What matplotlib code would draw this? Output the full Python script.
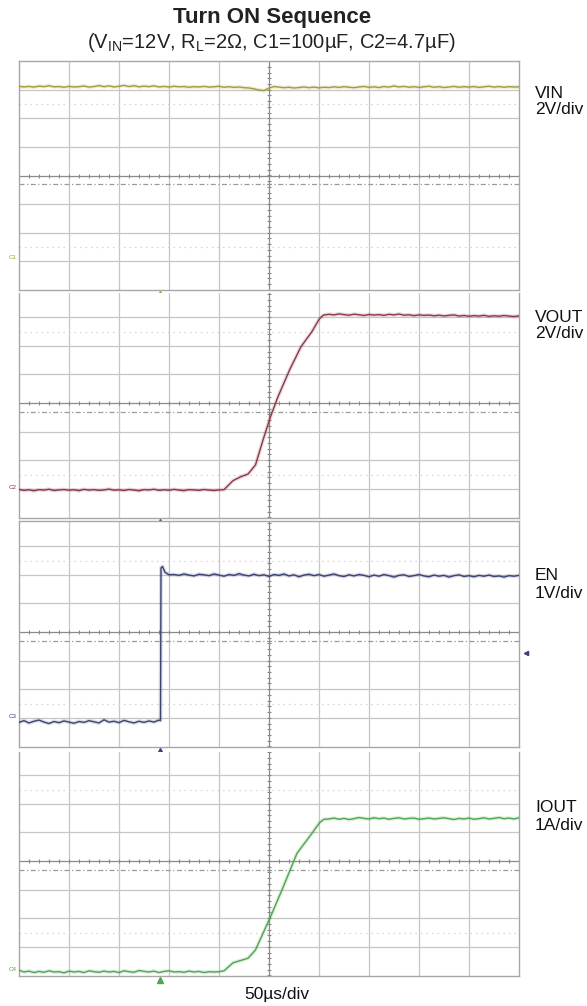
import matplotlib
matplotlib.use("Agg")
import matplotlib.pyplot as plt
import numpy as np

plt.rcParams['font.family'] = ['Liberation Sans', 'DejaVu Sans']
plt.rcParams['mathtext.fontset'] = 'custom'
plt.rcParams['mathtext.rm'] = 'Liberation Sans'
plt.rcParams['mathtext.it'] = 'Liberation Sans'

# ---------------- data (time in µs from left edge of screen) ----------------
vin_t = list(range(0, 505, 5))
vin_v = [11.98, 11.93, 11.97, 11.92, 11.99, 11.95, 12.02, 11.94, 11.96, 11.91,
         11.97, 11.93, 11.95, 12.00, 11.92, 11.96, 12.03, 11.95, 12.01, 11.93,
         11.98, 12.04, 11.96, 12.02, 11.94, 11.99, 11.95, 12.01, 11.93, 11.97,
         11.92, 11.98, 11.94, 11.96, 11.91, 11.95, 11.93, 11.97, 11.92, 11.94,
         11.98, 11.91, 11.95, 11.90, 11.93, 11.88, 11.86, 11.80, 11.72, 11.68,
         11.85, 11.96, 11.92, 11.88, 11.91, 11.86, 11.89, 11.93, 11.88, 11.92,
         11.87, 11.91, 11.89, 11.94, 11.90, 11.95, 11.91, 11.88, 11.93, 11.97,
         11.90, 11.94, 11.89, 11.96, 11.92, 12.00, 11.93, 11.97, 11.91, 11.95,
         11.90, 11.94, 11.98, 11.91, 11.95, 11.89, 11.93, 11.97, 11.91, 11.95,
         11.92, 11.96, 11.90, 11.94, 11.98, 11.92, 11.96, 11.91, 11.95, 11.93,
         11.94]

vout_low_t = list(range(0, 205, 5))
vout_low_v = [-0.15, -0.21, -0.17, -0.24, -0.16, -0.19, -0.13, -0.22, -0.18, -0.15,
              -0.20, -0.17, -0.23, -0.14, -0.19, -0.16, -0.21, -0.18, -0.12, -0.20,
              -0.17, -0.22, -0.15, -0.19, -0.24, -0.16, -0.18, -0.13, -0.21, -0.17,
              -0.20, -0.14, -0.19, -0.23, -0.16, -0.18, -0.21, -0.15, -0.19, -0.22,
              -0.18]
vout_rise_t = [205, 214, 222, 229, 236.5, 244, 251.5, 259, 270.5, 282, 293, 300.5, 304.5]
vout_rise_v = [-0.16, 0.47, 0.75, 0.93, 1.57, 3.31, 4.94, 6.34, 8.2, 9.84, 10.9, 11.8, 12.05]
vout_high_t = list(range(310, 505, 5))
vout_high_v = [12.10, 12.06, 12.13, 12.08, 12.04, 12.11, 12.07, 12.02, 12.09, 12.05,
               12.08, 12.03, 12.10, 12.06, 12.12, 12.04, 12.07, 12.01, 12.06, 12.03,
               12.05, 12.00, 12.04, 11.99, 12.03, 12.06, 11.98, 12.02, 11.97, 12.01,
               11.98, 12.03, 11.96, 12.00, 11.97, 12.02, 11.98, 11.95, 11.99]

en_low_t = list(range(0, 145, 5))
en_low_v = [-0.20, -0.14, -0.22, -0.16, -0.12, -0.19, -0.24, -0.17, -0.21, -0.15,
            -0.19, -0.23, -0.17, -0.20, -0.14, -0.18, -0.22, -0.11, -0.19, -0.16,
            -0.21, -0.13, -0.18, -0.22, -0.16, -0.20, -0.15, -0.19, -0.12]
en_edge_t = [141.5, 142.0, 143.5, 146, 150]
en_edge_v = [-0.14, 5.20, 5.25, 5.05, 4.96]
en_high_t = list(range(155, 505, 5))
en_high_v = [4.97, 4.94, 4.99, 4.95, 4.92, 4.98, 4.96, 4.93, 4.99, 4.95,
             4.91, 4.97, 4.94, 5.00, 4.95, 4.92, 4.98, 4.93, 4.96, 4.90,
             4.97, 4.94, 4.99, 4.92, 4.96, 4.89, 4.95, 4.98, 4.93, 4.97,
             4.91, 4.95, 4.99, 4.93, 4.90, 4.96, 4.92, 4.97, 4.94, 4.89,
             4.95, 4.91, 4.97, 4.93, 4.88, 4.94, 4.96, 4.90, 4.93, 4.97,
             4.92, 4.89, 4.95, 4.91, 4.94, 4.88, 4.93, 4.96, 4.90, 4.93,
             4.89, 4.94, 4.91, 4.95, 4.90, 4.92, 4.88, 4.93, 4.91, 4.94]

iout_low_t = list(range(0, 205, 5))
iout_low_v = [-0.04, -0.10, -0.07, -0.12, -0.08, -0.11, -0.06, -0.10, -0.09, -0.13,
              -0.07, -0.10, -0.08, -0.12, -0.06, -0.09, -0.11, -0.07, -0.10, -0.08,
              -0.12, -0.06, -0.09, -0.11, -0.05, -0.08, -0.10, -0.07, -0.12, -0.08,
              -0.06, -0.10, -0.09, -0.11, -0.07, -0.10, -0.08, -0.12, -0.09, -0.10,
              -0.09]
iout_rise_t = [205, 214, 229, 236.5, 244, 251.5, 263, 278, 293, 300.5, 305]
iout_rise_v = [-0.06, 0.22, 0.38, 0.67, 1.25, 1.83, 2.77, 4.05, 4.75, 5.12, 5.24]
iout_high_t = list(range(310, 505, 5))
iout_high_v = [5.25, 5.28, 5.24, 5.27, 5.23, 5.26, 5.30, 5.27, 5.25, 5.29,
               5.26, 5.28, 5.24, 5.27, 5.29, 5.25, 5.27, 5.28, 5.24, 5.26,
               5.28, 5.25, 5.27, 5.29, 5.26, 5.23, 5.27, 5.25, 5.28, 5.24,
               5.26, 5.29, 5.25, 5.27, 5.30, 5.26, 5.28, 5.25, 5.29]

channel_names = ["VIN", "VOUT", "EN", "IOUT"]
channel_scales = ["2V/div", "2V/div", "1V/div", "1A/div"]
volts_per_div = [2.0, 2.0, 1.0, 1.0]
ground_div = [-2.87, -2.95, -2.96, -3.78]
channel_tags = ["C1", "C2", "C3", "C4"]
trigger_t = 141
time_label = "50µs/div"
title = "Turn ON Sequence"
subtitle = r"(V$_{\rm IN}$=12V, R$_{\rm L}$=2Ω, C1=100µF, C2=4.7µF)"

traces = [
    (vin_t, vin_v),
    (vout_low_t + vout_rise_t + vout_high_t, vout_low_v + vout_rise_v + vout_high_v),
    (en_low_t + en_edge_t + en_high_t, en_low_v + en_edge_v + en_high_v),
    (iout_low_t + iout_rise_t + iout_high_t, iout_low_v + iout_rise_v + iout_high_v),
]
colors = ["#a39c3c", "#8c3848", "#3c4272", "#4fa54f"]

# ---------------- layout (pixels) ----------------
W, H = 587, 1006
DPI = 100
X0, X1 = 19, 519
DIV_PX = 28.6
panels_px = [(61, 290, 175.5), (293, 518, 403), (521, 747, 632), (752, 976, 861)]
top_spine = [True, False, True, False]
label_y = [(93, 110), (317, 334), (575, 593), (808, 826)]

fig = plt.figure(figsize=(W / DPI, H / DPI), dpi=DPI)
fig.patch.set_facecolor("white")

def fy(y):
    return 1 - y / H

grid_c = "#c6c6c6"
dark_c = "#8a8a8a"

for i, (ytop, ybot, yc) in enumerate(panels_px):
    ax = fig.add_axes([X0 / W, fy(ybot), (X1 - X0) / W, (ybot - ytop) / H])
    lo = -(ybot - yc) / DIV_PX
    hi = (yc - ytop) / DIV_PX
    ax.set_xlim(0, 500)
    ax.set_ylim(lo, hi)
    ax.set_xticks([])
    ax.set_yticks([])
    for s in ["left", "right", "bottom", "top"]:
        ax.spines[s].set_color("#a8a8a8")
        ax.spines[s].set_linewidth(1.0)
    ax.spines["top"].set_visible(top_spine[i])

    # vertical grid
    for k in range(1, 10):
        if k == 5:
            continue
        ax.axvline(k * 50, color=grid_c, lw=0.9, zorder=1)
    # horizontal grid
    for k in range(-3, 4):
        if k == 0:
            continue
        if lo < k < hi:
            ax.axhline(k, color=grid_c, lw=0.9, zorder=1)
    # center cross with minor ticks
    ax.axhline(0, color=dark_c, lw=0.9, zorder=1.5)
    ax.axvline(250, color=dark_c, lw=0.9, zorder=1.5)
    xt = np.arange(0, 501, 10)
    ax.plot(xt, np.zeros_like(xt, dtype=float), ls="none", marker="|", ms=3.5,
            mew=0.8, color=dark_c, zorder=1.6)
    yt = np.arange(np.ceil(lo / 0.2) * 0.2, hi, 0.2)
    ax.plot(np.full_like(yt, 250.0), yt, ls="none", marker="_", ms=3.5,
            mew=0.8, color=dark_c, zorder=1.6)
    # dash-dot reference line and dotted cursor lines
    ax.axhline(-0.3, color="#9a9a9a", lw=0.9, ls=(0, (4, 2, 1, 2)), zorder=1.4)
    for yy in (2.5, -2.5):
        ax.axhline(yy, color="#d2d2d2", lw=0.9, ls=(0, (1.2, 3.2)), zorder=1.2)

    # trace
    t, v = traces[i]
    yv = np.asarray(v) / volts_per_div[i] + ground_div[i]
    ax.plot(t, yv, color=colors[i], lw=2.8, alpha=0.18, zorder=3,
            solid_joinstyle="round")
    ax.plot(t, yv, color=colors[i], lw=1.0, zorder=4)

    # trigger marker below panel
    ax.plot([trigger_t], [lo - 3.5 / DIV_PX], marker="^", ms=4, color=colors[i],
            clip_on=False, zorder=5)
    # ground tag
    ax.text(-2, ground_div[i], channel_tags[i], fontsize=4.5, color=colors[i],
            ha="right", va="center", clip_on=False)
    if i == 2:
        ax.plot([507], [-0.73], marker="<", ms=3, color=colors[i], clip_on=False)

    # right labels
    fig.text(535 / W, fy(label_y[i][0]), channel_names[i], fontsize=12.5,
             ha="left", va="center", color="#111111")
    fig.text(535 / W, fy(label_y[i][1]), channel_scales[i], fontsize=12.5,
             ha="left", va="center", color="#111111")

fig.text(272 / W, fy(17), title, fontsize=16, fontweight="bold", ha="center",
         va="center", color="#222222")
fig.text(271 / W, fy(43), subtitle, fontsize=14.5, ha="center", va="center",
         color="#222222")
fig.text(277 / W, fy(995), time_label, fontsize=12.5, ha="center", va="center",
         color="#111111")

fig.savefig("out.png", dpi=DPI, facecolor="white")
